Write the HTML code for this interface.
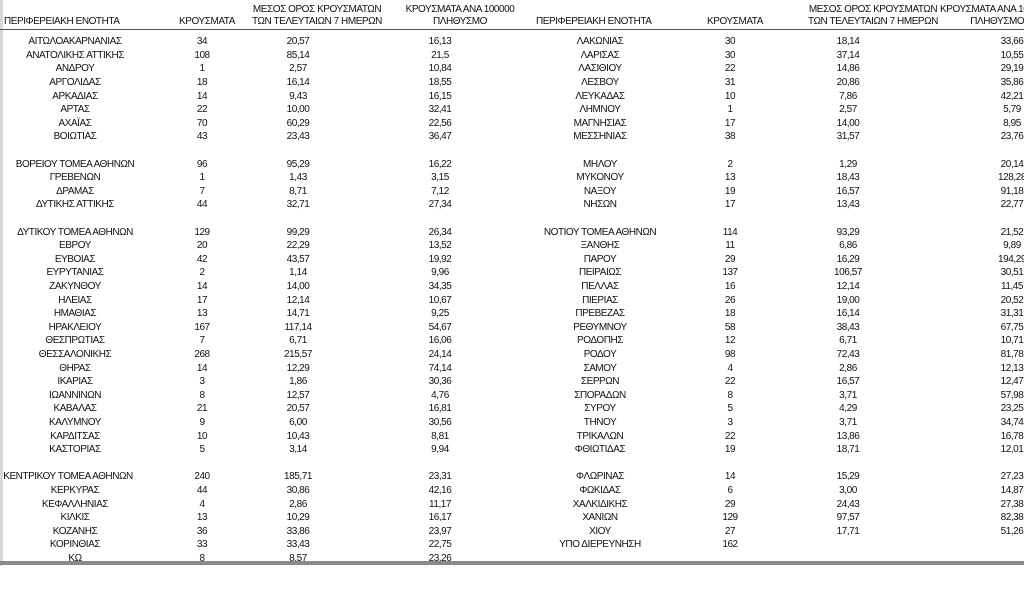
<!DOCTYPE html>
<html><head><meta charset="utf-8"><style>
body{margin:0;width:1024px;height:596px;background:#fff;overflow:hidden;position:relative;font-family:"Liberation Sans","Noto Sans CJK JP",sans-serif;color:#111;font-size:10px;letter-spacing:-0.45px}
.h{position:absolute;white-space:nowrap;text-align:center;line-height:12px}
.r{position:absolute;left:0;width:1024px;height:13.6px;line-height:13.6px}
.r span{position:absolute;width:160px;text-align:center;white-space:nowrap}
.a{left:-5px}.b{left:122px}.c{left:218px}.d{left:360px}
.e{left:520px}.f{left:650px}.g{left:768px}.k{left:932px}
#hl{position:absolute;left:0;top:29px;width:1024px;height:1px;background:#555}
#bl{position:absolute;left:0;top:561px;width:1024px;height:4px;background:#8a8a8a}
#lb{position:absolute;left:0;top:0;width:3px;height:566px;background:#d8d8d8}
</style></head><body>
<div id="lb"></div>
<div class="h" style="left:4px;top:16px;text-align:left">ΠΕΡΙΦΕΡΕΙΑΚΗ ΕΝΟΤΗΤΑ</div>
<div class="h" style="left:157px;width:100px;top:16px">ΚΡΟΥΣΜΑΤΑ</div>
<div class="h" style="left:237px;width:160px;top:4px">ΜΕΣΟΣ ΟΡΟΣ ΚΡΟΥΣΜΑΤΩΝ<br>ΤΩΝ ΤΕΛΕΥΤΑΙΩΝ 7 ΗΜΕΡΩΝ</div>
<div class="h" style="left:380px;width:160px;top:4px">ΚΡΟΥΣΜΑΤΑ ΑΝΑ 100000<br>ΠΛΗΘΥΣΜΟ</div>
<div class="h" style="left:536px;top:16px;text-align:left">ΠΕΡΙΦΕΡΕΙΑΚΗ ΕΝΟΤΗΤΑ</div>
<div class="h" style="left:685px;width:100px;top:16px">ΚΡΟΥΣΜΑΤΑ</div>
<div class="h" style="left:793px;width:160px;top:4px">ΜΕΣΟΣ ΟΡΟΣ ΚΡΟΥΣΜΑΤΩΝ<br>ΤΩΝ ΤΕΛΕΥΤΑΙΩΝ 7 ΗΜΕΡΩΝ</div>
<div class="h" style="left:940px;width:160px;top:4px;text-align:left">ΚΡΟΥΣΜΑΤΑ ΑΝΑ 100000<br>&nbsp;&nbsp;&nbsp;&nbsp;&nbsp;&nbsp;&nbsp;&nbsp;&nbsp;&nbsp;&nbsp;&nbsp;&nbsp;ΠΛΗΘΥΣΜΟ</div>
<div id="hl"></div>

<div class="r" style="top:35.2px"><span class="a">ΑΙΤΩΛΟΑΚΑΡΝΑΝΙΑΣ</span><span class="b">34</span><span class="c">20,57</span><span class="d">16,13</span><span class="e">ΛΑΚΩΝΙΑΣ</span><span class="f">30</span><span class="g">18,14</span><span class="k">33,66</span></div>
<div class="r" style="top:48.8px"><span class="a">ΑΝΑΤΟΛΙΚΗΣ ΑΤΤΙΚΗΣ</span><span class="b">108</span><span class="c">85,14</span><span class="d">21,5</span><span class="e">ΛΑΡΙΣΑΣ</span><span class="f">30</span><span class="g">37,14</span><span class="k">10,55</span></div>
<div class="r" style="top:62.4px"><span class="a">ΑΝΔΡΟΥ</span><span class="b">1</span><span class="c">2,57</span><span class="d">10,84</span><span class="e">ΛΑΣΙΘΙΟΥ</span><span class="f">22</span><span class="g">14,86</span><span class="k">29,19</span></div>
<div class="r" style="top:76px"><span class="a">ΑΡΓΟΛΙΔΑΣ</span><span class="b">18</span><span class="c">16,14</span><span class="d">18,55</span><span class="e">ΛΕΣΒΟΥ</span><span class="f">31</span><span class="g">20,86</span><span class="k">35,86</span></div>
<div class="r" style="top:89.6px"><span class="a">ΑΡΚΑΔΙΑΣ</span><span class="b">14</span><span class="c">9,43</span><span class="d">16,15</span><span class="e">ΛΕΥΚΑΔΑΣ</span><span class="f">10</span><span class="g">7,86</span><span class="k">42,21</span></div>
<div class="r" style="top:103.2px"><span class="a">ΑΡΤΑΣ</span><span class="b">22</span><span class="c">10,00</span><span class="d">32,41</span><span class="e">ΛΗΜΝΟΥ</span><span class="f">1</span><span class="g">2,57</span><span class="k">5,79</span></div>
<div class="r" style="top:116.8px"><span class="a">ΑΧΑΪΑΣ</span><span class="b">70</span><span class="c">60,29</span><span class="d">22,56</span><span class="e">ΜΑΓΝΗΣΙΑΣ</span><span class="f">17</span><span class="g">14,00</span><span class="k">8,95</span></div>
<div class="r" style="top:130.4px"><span class="a">ΒΟΙΩΤΙΑΣ</span><span class="b">43</span><span class="c">23,43</span><span class="d">36,47</span><span class="e">ΜΕΣΣΗΝΙΑΣ</span><span class="f">38</span><span class="g">31,57</span><span class="k">23,76</span></div>

<div class="r" style="top:157.6px"><span class="a">ΒΟΡΕΙΟΥ ΤΟΜΕΑ ΑΘΗΝΩΝ</span><span class="b">96</span><span class="c">95,29</span><span class="d">16,22</span><span class="e">ΜΗΛΟΥ</span><span class="f">2</span><span class="g">1,29</span><span class="k">20,14</span></div>
<div class="r" style="top:171.2px"><span class="a">ΓΡΕΒΕΝΩΝ</span><span class="b">1</span><span class="c">1,43</span><span class="d">3,15</span><span class="e">ΜΥΚΟΝΟΥ</span><span class="f">13</span><span class="g">18,43</span><span class="k">128,28</span></div>
<div class="r" style="top:184.8px"><span class="a">ΔΡΑΜΑΣ</span><span class="b">7</span><span class="c">8,71</span><span class="d">7,12</span><span class="e">ΝΑΞΟΥ</span><span class="f">19</span><span class="g">16,57</span><span class="k">91,18</span></div>
<div class="r" style="top:198.4px"><span class="a">ΔΥΤΙΚΗΣ ΑΤΤΙΚΗΣ</span><span class="b">44</span><span class="c">32,71</span><span class="d">27,34</span><span class="e">ΝΗΣΩΝ</span><span class="f">17</span><span class="g">13,43</span><span class="k">22,77</span></div>

<div class="r" style="top:225.6px"><span class="a">ΔΥΤΙΚΟΥ ΤΟΜΕΑ ΑΘΗΝΩΝ</span><span class="b">129</span><span class="c">99,29</span><span class="d">26,34</span><span class="e">ΝΟΤΙΟΥ ΤΟΜΕΑ ΑΘΗΝΩΝ</span><span class="f">114</span><span class="g">93,29</span><span class="k">21,52</span></div>
<div class="r" style="top:239.2px"><span class="a">ΕΒΡΟΥ</span><span class="b">20</span><span class="c">22,29</span><span class="d">13,52</span><span class="e">ΞΑΝΘΗΣ</span><span class="f">11</span><span class="g">6,86</span><span class="k">9,89</span></div>
<div class="r" style="top:252.8px"><span class="a">ΕΥΒΟΙΑΣ</span><span class="b">42</span><span class="c">43,57</span><span class="d">19,92</span><span class="e">ΠΑΡΟΥ</span><span class="f">29</span><span class="g">16,29</span><span class="k">194,29</span></div>
<div class="r" style="top:266.4px"><span class="a">ΕΥΡΥΤΑΝΙΑΣ</span><span class="b">2</span><span class="c">1,14</span><span class="d">9,96</span><span class="e">ΠΕΙΡΑΙΩΣ</span><span class="f">137</span><span class="g">106,57</span><span class="k">30,51</span></div>
<div class="r" style="top:280px"><span class="a">ΖΑΚΥΝΘΟΥ</span><span class="b">14</span><span class="c">14,00</span><span class="d">34,35</span><span class="e">ΠΕΛΛΑΣ</span><span class="f">16</span><span class="g">12,14</span><span class="k">11,45</span></div>
<div class="r" style="top:293.6px"><span class="a">ΗΛΕΙΑΣ</span><span class="b">17</span><span class="c">12,14</span><span class="d">10,67</span><span class="e">ΠΙΕΡΙΑΣ</span><span class="f">26</span><span class="g">19,00</span><span class="k">20,52</span></div>
<div class="r" style="top:307.2px"><span class="a">ΗΜΑΘΙΑΣ</span><span class="b">13</span><span class="c">14,71</span><span class="d">9,25</span><span class="e">ΠΡΕΒΕΖΑΣ</span><span class="f">18</span><span class="g">16,14</span><span class="k">31,31</span></div>
<div class="r" style="top:320.8px"><span class="a">ΗΡΑΚΛΕΙΟΥ</span><span class="b">167</span><span class="c">117,14</span><span class="d">54,67</span><span class="e">ΡΕΘΥΜΝΟΥ</span><span class="f">58</span><span class="g">38,43</span><span class="k">67,75</span></div>
<div class="r" style="top:334.4px"><span class="a">ΘΕΣΠΡΩΤΙΑΣ</span><span class="b">7</span><span class="c">6,71</span><span class="d">16,06</span><span class="e">ΡΟΔΟΠΗΣ</span><span class="f">12</span><span class="g">6,71</span><span class="k">10,71</span></div>
<div class="r" style="top:348px"><span class="a">ΘΕΣΣΑΛΟΝΙΚΗΣ</span><span class="b">268</span><span class="c">215,57</span><span class="d">24,14</span><span class="e">ΡΟΔΟΥ</span><span class="f">98</span><span class="g">72,43</span><span class="k">81,78</span></div>
<div class="r" style="top:361.6px"><span class="a">ΘΗΡΑΣ</span><span class="b">14</span><span class="c">12,29</span><span class="d">74,14</span><span class="e">ΣΑΜΟΥ</span><span class="f">4</span><span class="g">2,86</span><span class="k">12,13</span></div>
<div class="r" style="top:375.2px"><span class="a">ΙΚΑΡΙΑΣ</span><span class="b">3</span><span class="c">1,86</span><span class="d">30,36</span><span class="e">ΣΕΡΡΩΝ</span><span class="f">22</span><span class="g">16,57</span><span class="k">12,47</span></div>
<div class="r" style="top:388.8px"><span class="a">ΙΩΑΝΝΙΝΩΝ</span><span class="b">8</span><span class="c">12,57</span><span class="d">4,76</span><span class="e">ΣΠΟΡΑΔΩΝ</span><span class="f">8</span><span class="g">3,71</span><span class="k">57,98</span></div>
<div class="r" style="top:402.4px"><span class="a">ΚΑΒΑΛΑΣ</span><span class="b">21</span><span class="c">20,57</span><span class="d">16,81</span><span class="e">ΣΥΡΟΥ</span><span class="f">5</span><span class="g">4,29</span><span class="k">23,25</span></div>
<div class="r" style="top:416px"><span class="a">ΚΑΛΥΜΝΟΥ</span><span class="b">9</span><span class="c">6,00</span><span class="d">30,56</span><span class="e">ΤΗΝΟΥ</span><span class="f">3</span><span class="g">3,71</span><span class="k">34,74</span></div>
<div class="r" style="top:429.6px"><span class="a">ΚΑΡΔΙΤΣΑΣ</span><span class="b">10</span><span class="c">10,43</span><span class="d">8,81</span><span class="e">ΤΡΙΚΑΛΩΝ</span><span class="f">22</span><span class="g">13,86</span><span class="k">16,78</span></div>
<div class="r" style="top:443.2px"><span class="a">ΚΑΣΤΟΡΙΑΣ</span><span class="b">5</span><span class="c">3,14</span><span class="d">9,94</span><span class="e">ΦΘΙΩΤΙΔΑΣ</span><span class="f">19</span><span class="g">18,71</span><span class="k">12,01</span></div>

<div class="r" style="top:470.4px"><span class="a" style="left:-12px">ΚΕΝΤΡΙΚΟΥ ΤΟΜΕΑ ΑΘΗΝΩΝ</span><span class="b">240</span><span class="c">185,71</span><span class="d">23,31</span><span class="e">ΦΛΩΡΙΝΑΣ</span><span class="f">14</span><span class="g">15,29</span><span class="k">27,23</span></div>
<div class="r" style="top:484px"><span class="a">ΚΕΡΚΥΡΑΣ</span><span class="b">44</span><span class="c">30,86</span><span class="d">42,16</span><span class="e">ΦΩΚΙΔΑΣ</span><span class="f">6</span><span class="g">3,00</span><span class="k">14,87</span></div>
<div class="r" style="top:497.6px"><span class="a">ΚΕΦΑΛΛΗΝΙΑΣ</span><span class="b">4</span><span class="c">2,86</span><span class="d">11,17</span><span class="e">ΧΑΛΚΙΔΙΚΗΣ</span><span class="f">29</span><span class="g">24,43</span><span class="k">27,38</span></div>
<div class="r" style="top:511.2px"><span class="a">ΚΙΛΚΙΣ</span><span class="b">13</span><span class="c">10,29</span><span class="d">16,17</span><span class="e">ΧΑΝΙΩΝ</span><span class="f">129</span><span class="g">97,57</span><span class="k">82,38</span></div>
<div class="r" style="top:524.8px"><span class="a">ΚΟΖΑΝΗΣ</span><span class="b">36</span><span class="c">33,86</span><span class="d">23,97</span><span class="e">ΧΙΟΥ</span><span class="f">27</span><span class="g">17,71</span><span class="k">51,26</span></div>
<div class="r" style="top:538.4px"><span class="a">ΚΟΡΙΝΘΙΑΣ</span><span class="b">33</span><span class="c">33,43</span><span class="d">22,75</span><span class="e">ΥΠΟ ΔΙΕΡΕΥΝΗΣΗ</span><span class="f">162</span></div>
<div class="r" style="top:552px"><span class="a">ΚΩ</span><span class="b">8</span><span class="c">8,57</span><span class="d">23,26</span></div>
<div id="bl"></div>
</body></html>
